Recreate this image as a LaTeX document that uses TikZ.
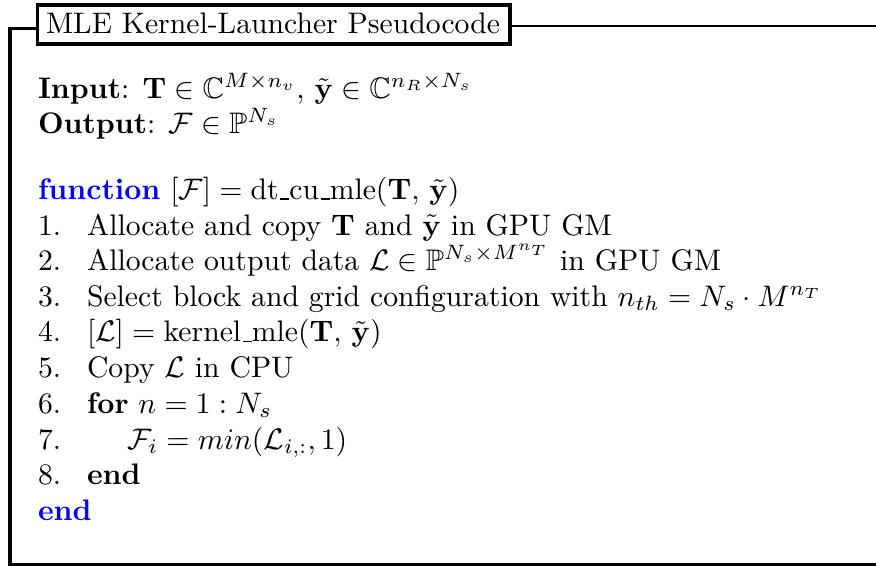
\documentclass[tikz,border=0pt]{standalone}
\usepackage{amsmath,amssymb}
% low rule used as underscore in routine names
\newcommand{\lowbar}{\leavevmode\kern.06em\vbox{\hrule width.3em}}
\begin{document}
\begin{tikzpicture}[x=0.3367pt,y=-0.3367pt,
  line/.style={anchor=base west,inner sep=0pt,outer sep=0pt},
  kw/.style={line,text=blue,font=\bfseries},
  frameline/.style={line width=1.1pt,line cap=rect},
  titlebox/.style={draw,line width=1.1pt,fill=white}]
\useasboundingbox (0,0) rectangle (876,565);
\clip (0,0) rectangle (876,565);

% outer frame (its right side runs past the page)
\coordinate (tl) at (10,28.5);
\coordinate (bl) at (10,564.5);
\coordinate (br) at (900,564.5);
\coordinate (tr) at (900,26);
\draw[frameline] (37.7,28.5) -- (tl) -- (bl) -- (br);
\draw[line width=0.9pt] (510,26) -- (tr);

% title
\draw[titlebox] (37.7,5) rectangle (510,44);
\node[line] (title) at (46,33) {MLE Kernel-Launcher Pseudocode};

% header
\node[line] (in) at (38,98.5) {\textbf{Input}: $\mathbf{T}\in\mathbb{C}^{M\times n_v}$, $\tilde{\mathbf{y}}\in\mathbb{C}^{n_R\times N_s}$};
\node[line] (out) at (38,133.5) {\textbf{Output}: $\mathcal{F}\in\mathbb{P}^{N_s}$};

% function body
\node[kw] (fn) at (38,199.5) {function};
\node[line] (fnsig) at (fn.base east) {\ $[\mathcal{F}] = \text{dt\lowbar cu\lowbar mle}(\mathbf{T},\, \tilde{\mathbf{y}})$};

\node[line] (n1) at (38,235) {1.};
\node[line] (s1) at (87,235) {Allocate and copy $\mathbf{T}$ and $\tilde{\mathbf{y}}$ in GPU GM};
\node[line] (n2) at (38,270.6) {2.};
\node[line] (s2) at (87,270.6) {Allocate output data $\mathcal{L}\in\mathbb{P}^{N_s\times M^{n_T}}$ in GPU GM};
\node[line] (n3) at (38,306.2) {3.};
\node[line] (s3) at (87,306.2) {Select block and grid configuration with $n_{th} = N_s\cdot M^{n_T}$};
\node[line] (n4) at (38,341.8) {4.};
\node[line] (s4) at (87,341.8) {$[\mathcal{L}] = \text{kernel\lowbar mle}(\mathbf{T},\, \tilde{\mathbf{y}})$};
\node[line] (n5) at (38,377.4) {5.};
\node[line] (s5) at (87,377.4) {Copy $\mathcal{L}$ in CPU};
\node[line] (n6) at (38,413) {6.};
\node[line] (s6) at (87,413) {\textbf{for} $n = 1 : N_s$};
\node[line] (n7) at (38,449) {7.};
\node[line] (s7) at (127,449) {$\mathcal{F}_i = min(\mathcal{L}_{i,:}, 1)$};
\node[line] (n8) at (38,484.5) {8.};
\node[line] (s8) at (87,484.5) {\textbf{end}};
\node[kw] (fnend) at (38,520) {end};
\end{tikzpicture}
\end{document}
